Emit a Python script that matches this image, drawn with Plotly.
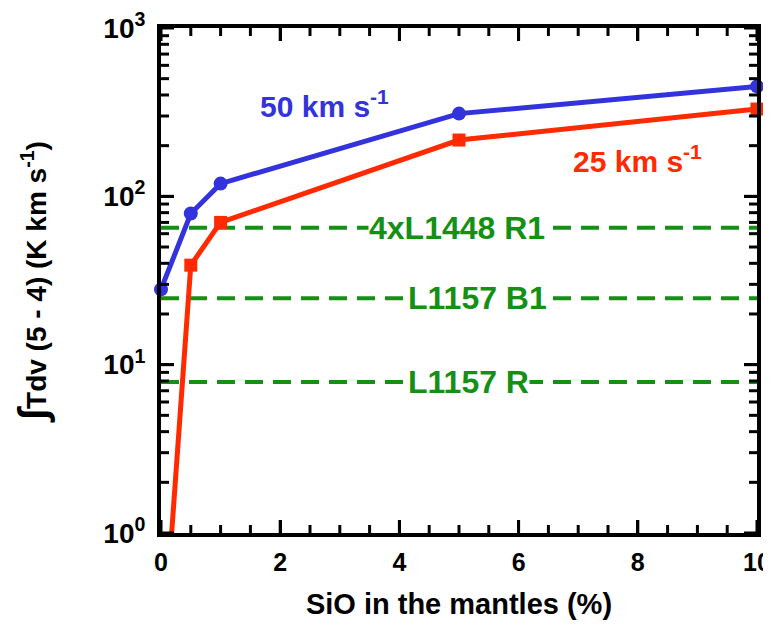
import math
import plotly.graph_objects as go

sio_blue = [0, 0.5, 1, 5, 10]
tdv_50 = [28, 79, 119, 310, 450]
sio_red = [0, 0.5, 1, 5, 10]
tdv_25 = [0.13, 39, 70, 216, 330]

ref_names = ["4xL1448 R1", "L1157 B1", "L1157 R"]
ref_values = [65, 24.8, 7.9]
ref_label_x = [3.47, 4.13, 4.13]

ytick_vals = [1, 10, 100, 1000]
ytick_text = ["10<sup>0</sup>", "10<sup>1</sup>", "10<sup>2</sup>", "10<sup>3</sup>"]
yminor_vals = [m * d for d in (1, 10, 100) for m in range(2, 10)]
xtick_vals = [0, 2, 4, 6, 8, 10]
xminor_vals = [0.5, 1, 1.5, 2.5, 3, 3.5, 4.5, 5, 5.5, 6.5, 7, 7.5, 8.5, 9, 9.5]

BLUE = "#3333dd"
RED = "#ff2a00"
GREEN = "#149014"
FONT = "Liberation Sans"
MAJOR_LEN = 13
MINOR_LEN = 8

fig = go.Figure()

for name, val in zip(ref_names, ref_values):
    fig.add_trace(go.Scatter(x=[0, 10], y=[val, val], mode="lines",
                             line=dict(color=GREEN, width=4, dash="18px,10px"),
                             showlegend=False, hoverinfo="skip"))

fig.add_trace(go.Scatter(x=sio_red, y=tdv_25, mode="lines",
                         line=dict(color=RED, width=5), showlegend=False))
fig.add_trace(go.Scatter(x=sio_red[1:], y=tdv_25[1:], mode="markers",
                         marker=dict(symbol="square", size=13, color=RED),
                         showlegend=False, cliponaxis=False))
fig.add_trace(go.Scatter(x=sio_blue, y=tdv_50, mode="lines+markers",
                         line=dict(color=BLUE, width=5),
                         marker=dict(symbol="circle", size=14, color=BLUE),
                         showlegend=False, cliponaxis=False))

for name, val, lx in zip(ref_names, ref_values, ref_label_x):
    fig.add_annotation(x=lx, y=math.log10(val), text=name, showarrow=False,
                       xanchor="left", yanchor="middle", bgcolor="white",
                       font=dict(family=FONT, size=32, color=GREEN, weight="bold"),
                       borderpad=0)

fig.add_annotation(x=2.75, y=2.55, text="50 km s<sup>-1</sup>", showarrow=False,
                   font=dict(family=FONT, size=30, color=BLUE, weight="bold"))
fig.add_annotation(x=8.0, y=2.22, text="25 km s<sup>-1</sup>", showarrow=False,
                   font=dict(family=FONT, size=30, color=RED, weight="bold"))

# inside tick marks on all four sides, placed through the axes' own scales
tick_line = dict(color="black", width=3)
for vals, length in ((xtick_vals, MAJOR_LEN), (xminor_vals, MINOR_LEN)):
    for xv in vals:
        for anchor, sign in ((0, 1), (1, -1)):
            fig.add_shape(type="line", xref="x", yref="y domain", ysizemode="pixel",
                          yanchor=anchor, x0=xv, x1=xv, y0=0, y1=sign * length,
                          line=tick_line, layer="above")
for vals, length in ((ytick_vals, MAJOR_LEN), (yminor_vals, MINOR_LEN)):
    for yv in vals:
        for anchor, sign in ((0, 1), (1, -1)):
            fig.add_shape(type="line", yref="y", xref="x domain", xsizemode="pixel",
                          xanchor=anchor, y0=yv, y1=yv, x0=0, x1=sign * length,
                          line=tick_line, layer="above")

fig.update_xaxes(range=[0, 10], tickmode="linear", tick0=0, dtick=2,
                 showline=True, linecolor="black", linewidth=4, mirror="allticks",
                 ticks="inside", ticklen=MAJOR_LEN, tickwidth=3, tickcolor="black",
                 showgrid=False, zeroline=False, automargin=False,
                 ticklabelstandoff=4,
                 tickfont=dict(family=FONT, size=25, color="black", weight="bold"),
                 title=dict(text="SiO in the mantles (%)", standoff=20,
                            font=dict(family=FONT, size=29, color="black", weight="bold")))
fig.update_yaxes(type="log", range=[0, 3], tickmode="array", tickvals=ytick_vals, ticktext=ytick_text,
                 showline=True, linecolor="black", linewidth=4, mirror="allticks",
                 ticks="inside", ticklen=MAJOR_LEN, tickwidth=3, tickcolor="black",
                 showgrid=False, zeroline=False, automargin=False,
                 ticklabelstandoff=6,
                 tickfont=dict(family=FONT, size=28, color="black", weight="bold"),
                 title=dict(text="<span style='font-size:40px'>∫</span>Tdv (5 - 4) (K km s<sup>-1</sup>)", standoff=50,
                            font=dict(family=FONT, size=28, color="black", weight="bold")))

fig.update_layout(template="none", width=763, height=618, plot_bgcolor="white", paper_bgcolor="white",
                  margin=dict(l=153, r=14, t=20, b=93), showlegend=False)

fig.write_html("out.html")
